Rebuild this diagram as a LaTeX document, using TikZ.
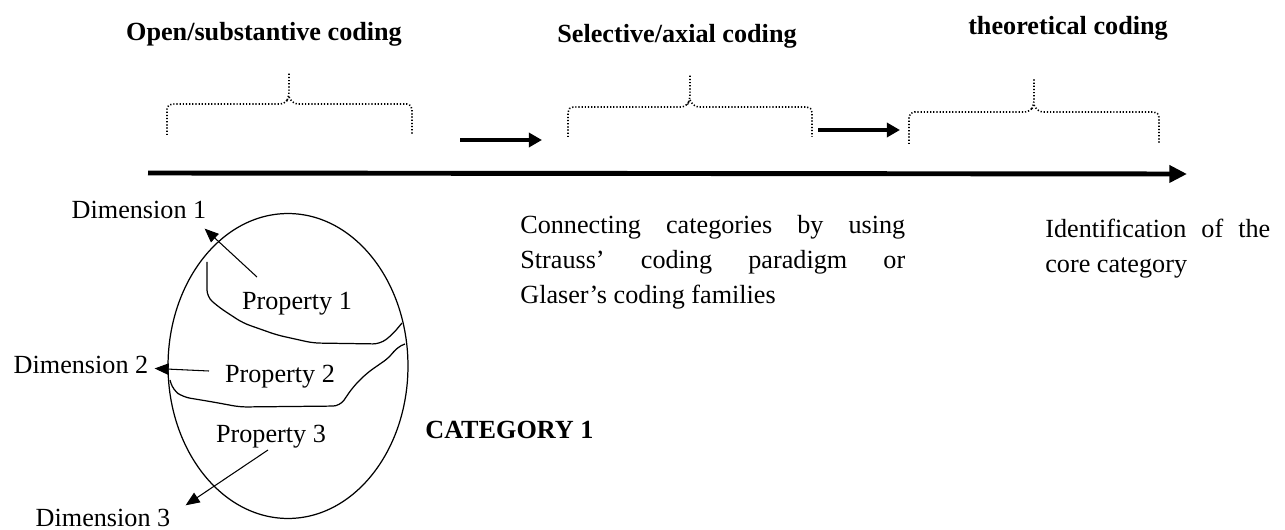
\documentclass[tikz,border=0pt]{standalone}
\usepackage{fontspec}
\setmainfont{Liberation Serif}
\usetikzlibrary{positioning, arrows.meta, shapes.geometric}

\begin{document}
\begin{tikzpicture}[x=0.02cm, y=-0.02cm,
  font=\fontsize{14.9}{19.9}\selectfont,
  txt/.style={inner sep=0pt},
  head/.style={inner sep=0pt, font=\fontsize{14.9}{19.9}\selectfont\bfseries},
  curly/.style={dash pattern=on 0.7pt off 1.1pt, line width=0.9pt, rounded corners=3pt},
  axis/.style={-{Triangle[length=10pt, width=9.5pt]}, line width=2.8pt},
  flow/.style={-{Triangle[length=7.5pt, width=8pt]}, line width=2pt},
  dimarr/.style={-{Triangle[length=8pt, width=6.5pt]}, line width=0.6pt},
  border/.style={line width=0.7pt}]
  \useasboundingbox (0,0) rectangle (1285,530);

  % stage titles
  \node[head, anchor=base] (opencode) at (264,41) {Open/substantive coding};
  \node[head, anchor=base] (axialcode) at (677,43) {Selective/axial coding};
  \node[head, anchor=base] (theocode) at (1068,35) {theoretical coding};

  % dotted braces
  \draw[curly] (167,135) -- (167,104) -- (285,104) -- (289,97) -- (289,73)
               (289,97) -- (293,104) -- (412,104) -- (412,135);
  \draw[curly] (568,137) -- (568,107) -- (686,107) -- (690,100) -- (690,74)
               (690,100) -- (694,107) -- (812,107) -- (812,137);
  \draw[curly] (909,144) -- (909,112) -- (1030,112) -- (1034,105) -- (1034,79)
               (1034,105) -- (1038,112) -- (1159,112) -- (1159,144);

  % arrows between stages and time line
  \coordinate (f1a) at (460,140);
  \coordinate (f1b) at (542,140);
  \coordinate (f2a) at (818,130);
  \coordinate (f2b) at (900,130);
  \coordinate (axisL) at (148,173);
  \coordinate (axisR) at (1187,174);
  \draw[flow] (f1a) -- (f1b);
  \draw[flow] (f2a) -- (f2b);
  \draw[axis] (axisL) -- (axisR);

  % descriptions
  \node[txt, anchor=north west, text width=7.7cm, align=justify] (connect) at (520,215)
    {Connecting categories by using\linebreak Strauss’ coding paradigm or\linebreak Glaser’s coding families};
  \node[txt, anchor=north west, text width=4.5cm, align=justify] (ident) at (1045,219)
    {Identification of the\linebreak core category};

  % category with its properties
  \node[draw, ellipse, border, minimum width=4.8cm, minimum height=6.1cm, inner sep=0pt] (cat) at (288,366) {};
  \draw[border, rounded corners=4pt] (207,262) -- (207,297) -- (220,308) -- (243,323) -- (277,335)
    -- (313,343) -- (380,344) -- (392,335) -- (402,323);
  \draw[border, rounded corners=4pt] (405,344) -- (397,347) -- (390,357) -- (367,373) -- (353,387)
    -- (340,406) -- (240,407) -- (213,402) -- (183,397) -- (173,390) -- (170,380);
  \node[head, anchor=base west] (catname) at (425,438) {CATEGORY 1};

  \node[txt, anchor=base] (prop1) at (297,310) {Property 1};
  \node[txt, anchor=base] (prop2) at (280,382) {Property 2};
  \node[txt, anchor=base] (prop3) at (271,442) {Property 3};
  \node[txt, anchor=base] (dim1) at (139,219) {Dimension 1};
  \node[txt, anchor=base] (dim2) at (81,373) {Dimension 2};
  \node[txt, anchor=base] (dim3) at (103,526) {Dimension 3};

  \coordinate (p1from) at (257,277);
  \coordinate (p2from) at (209,371);
  \coordinate (p3from) at (268,450);
  \draw[dimarr] (p1from) -- ([shift={(-2,9)}]dim1.south east);
  \draw[dimarr] (p2from) -- ([shift={(6,4)}]dim2.east);
  \draw[dimarr] (p3from) -- ([shift={(15,-3)}]dim3.north east);
\end{tikzpicture}
\end{document}
